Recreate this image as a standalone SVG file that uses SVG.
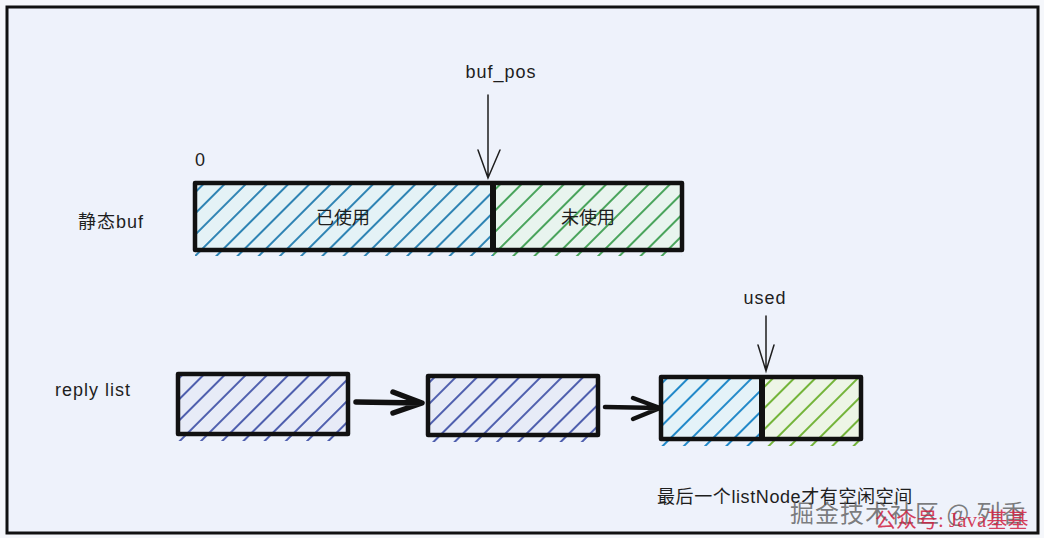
<svg xmlns="http://www.w3.org/2000/svg" width="1044" height="538" viewBox="0 0 1044 538">
<defs>
<style>
.t{font-family:"Liberation Sans","Noto Sans CJK SC",sans-serif;fill:#1e1e1e;font-size:18px}
.box{fill:none;stroke:#111;stroke-width:4.5;stroke-linejoin:round}
.ln{stroke:#1e1e1e;stroke-width:1.5;fill:none;stroke-linecap:round}
.conn{stroke:#111;fill:none;stroke-linecap:round;stroke-linejoin:round}
</style>
<pattern id="hb" width="15" height="15" patternUnits="userSpaceOnUse" patternTransform="rotate(45)"><line x1="4" y1="0" x2="4" y2="15" stroke="#2f84b4" stroke-width="2"/></pattern>
<pattern id="hg" width="15" height="15" patternUnits="userSpaceOnUse" patternTransform="rotate(45)"><line x1="4" y1="0" x2="4" y2="15" stroke="#4aa45c" stroke-width="2"/></pattern>
<pattern id="hp" width="15" height="15" patternUnits="userSpaceOnUse" patternTransform="rotate(45)"><line x1="4" y1="0" x2="4" y2="15" stroke="#4f5fae" stroke-width="2"/></pattern>
<pattern id="hc" width="15" height="15" patternUnits="userSpaceOnUse" patternTransform="rotate(45)"><line x1="4" y1="0" x2="4" y2="15" stroke="#2289c9" stroke-width="2"/></pattern>
<pattern id="hy" width="15" height="15" patternUnits="userSpaceOnUse" patternTransform="rotate(45)"><line x1="4" y1="0" x2="4" y2="15" stroke="#74b43a" stroke-width="2"/></pattern>
</defs>
<rect x="0" y="0" width="1044" height="538" fill="#f5f7fb"/>
<rect x="7" y="7" width="1031" height="526" fill="#eef2fb" stroke="#111" stroke-width="3"/>

<g id="buf">
<rect x="195" y="183" width="298" height="67" fill="#e4f2f6"/>
<rect x="493" y="183" width="189" height="67" fill="#e8f4ee"/>
<rect x="195" y="183" width="298" height="73" fill="url(#hb)"/>
<rect x="493" y="183" width="189" height="73" fill="url(#hg)"/>
<rect x="195" y="183" width="487" height="67" class="box"/>
<line x1="493" y1="183" x2="493" y2="250" stroke="#111" stroke-width="6"/>
<text class="t" x="343" y="224" text-anchor="middle">已使用</text>
<text class="t" x="588" y="224" text-anchor="middle">未使用</text>
</g>
<text id="zero" class="t" x="195" y="166" font-size="17">0</text>
<text id="label-buf" class="t" x="78" y="228" font-size="19" letter-spacing="1">静态buf</text>
<text id="label-list" class="t" x="55" y="396" font-size="20" letter-spacing="1">reply list</text>

<g id="node1">
<rect x="178" y="374" width="170" height="60" fill="#e7ebf7"/>
<rect x="178" y="374" width="170" height="67" fill="url(#hp)"/>
<rect x="178" y="374" width="170" height="60" class="box"/>
</g>
<g id="node2">
<rect x="428" y="376" width="170" height="59" fill="#e7ebf7"/>
<rect x="428" y="376" width="170" height="66" fill="url(#hp)"/>
<rect x="428" y="376" width="170" height="59" class="box"/>
</g>
<g id="node3">
<rect x="661" y="377" width="101" height="62" fill="#e4f2f8"/>
<rect x="762" y="377" width="99" height="62" fill="#edf5e6"/>
<rect x="661" y="377" width="101" height="69" fill="url(#hc)"/>
<rect x="762" y="377" width="99" height="69" fill="url(#hy)"/>
<rect x="661" y="377" width="200" height="62" class="box"/>
<line x1="762" y1="377" x2="762" y2="439" stroke="#111" stroke-width="6"/>
</g>

<g id="connectors">
<path class="conn" d="M356 402 L421 403 M393 392 L422 403 L393 413" stroke-width="5.5"/>
<path class="conn" d="M605 407 L659 408 M633 398 L660 408 L633 419" stroke-width="4.5"/>
<path class="ln" d="M488 95 L488 178 M478 150 L488 178 L500 150"/>
<path class="ln" d="M766 316 L766 371 M758 345 L766 371 L774 345"/>
</g>
<text id="label-bufpos" class="t" x="501" y="78" text-anchor="middle" font-size="20" letter-spacing="1">buf_pos</text>
<text id="label-used" class="t" x="765" y="304" text-anchor="middle" font-size="17" letter-spacing="1">used</text>
<text id="note" class="t" x="657" y="503" font-size="19" letter-spacing="0.6">最后一个listNode才有空闲空间</text>
<text id="wm1" x="790" y="522" font-family="'Noto Sans CJK SC',sans-serif" font-size="24" letter-spacing="1" fill="#555" fill-opacity="0.75">掘金技术社区 @ 列香</text>
<text id="wm2" x="875" y="527" font-family="'Liberation Serif','Noto Sans CJK SC',serif" font-size="21" fill="#d02040" fill-opacity="0.85">公众号: Java基基</text>
</svg>
